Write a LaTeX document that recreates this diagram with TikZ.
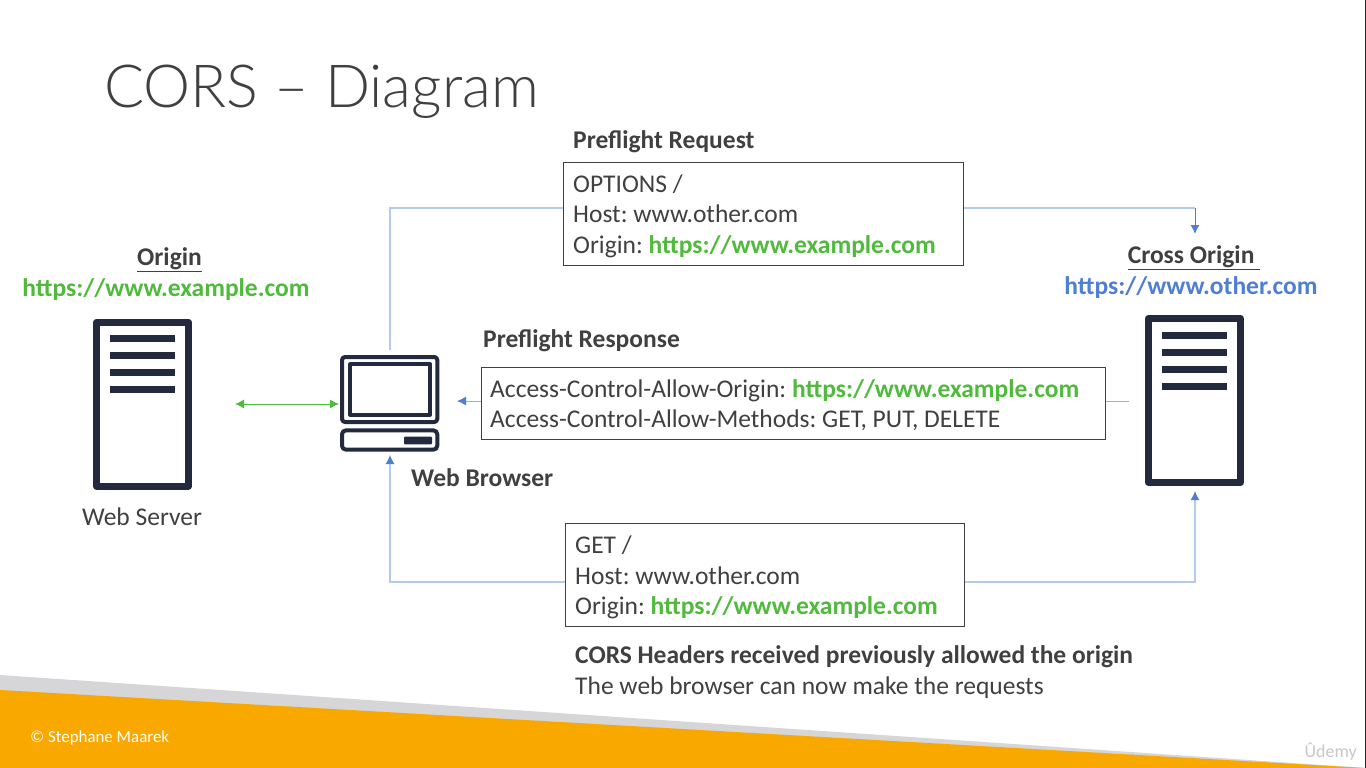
\documentclass[tikz,border=0pt]{standalone}
\usepackage{fontspec}
\setmainfont{Carlito}
\newfontfamily\headfont{Lato Light}
\usetikzlibrary{positioning,arrows.meta}
\definecolor{inkgrey}{HTML}{404040}
\definecolor{devnavy}{HTML}{232A3E}
\definecolor{okgreen}{HTML}{4FBA3B}
\definecolor{wireblue}{HTML}{4F7FD3}
\definecolor{paleblue}{HTML}{B4CBEC}
\definecolor{paleteal}{HTML}{8FBBC6}
\definecolor{bandorange}{HTML}{F9A800}
\definecolor{bandgrey}{HTML}{D6D5D8}
\tikzset{
  every node/.style={inner sep=0pt,text=inkgrey,font=\fontsize{25.5}{30}\selectfont},
  msgbox/.style={draw=inkgrey,line width=1.4pt,fill=white,anchor=north west},
  boxline/.style={anchor=base west},
  headline/.style={anchor=base west,font=\fontsize{25.5}{30}\selectfont\bfseries},
  linkhead/.style={anchor=base,font=\fontsize{25.5}{30}\selectfont\bfseries},
  wire/.style={draw=paleblue,line width=1.2pt},
  flow/.style={wire,-{Latex[color=wireblue,length=9pt,width=9pt]}},
  devline/.style={draw=devnavy,line join=round},
}
\newcommand{\okurl}[1]{\textcolor{okgreen}{\textbf{#1}}}
\newcommand{\towerat}[2]{
  \draw[devline,line width=7pt,fill=white] (#1+3.5,#2+3.5) rectangle (#1+95.5,#2+167.5);
  \foreach \yy in {20,37,54,71}
    \fill[devnavy] (#1+17,#2+\yy-3.5) rectangle (#1+82,#2+\yy+3.5);
}
\frenchspacing
\begin{document}
\begin{tikzpicture}[x=1pt,y=-1pt]
 \useasboundingbox (0,0) rectangle (1366,768);
 \fill[white] (0,0) rectangle (1366,768);
 \fill[bandgrey] (0,675) -- (1366,768) -- (0,768) -- cycle;
 \fill[bandorange] (0,690) -- (1366,768) -- (0,768) -- cycle;
 \fill[black!85] (1365,0) rectangle (1366,768);
 \node[anchor=base west,font=\fontsize{59.4}{70}\selectfont\headfont] (title) at (104,107) {CORS – Diagram};
 \node[anchor=base west,text=white,font=\fontsize{16.9}{18}\selectfont] (credit) at (30,742) {© Stephane Maarek};
 \node[anchor=base east,text=black!22,font=\fontsize{18}{18}\selectfont] (brand) at (1357,757) {Ûdemy};

 \towerat{93}{318.5}
 \towerat{1145}{315}
 \coordinate (webtop) at (390,350);
 \coordinate (webdown) at (390,455);
 \coordinate (webright) at (457,401);
 \coordinate (webleft) at (339,404);
 \coordinate (serverright) at (235,404);
 \coordinate (crosstop) at (1195,234);
 \coordinate (crossdown) at (1195,491);
 \coordinate (crossleft) at (1129,401);

 \draw[devline,line width=4pt,rounded corners=3pt] (342,357) rectangle (437.3,422);
 \draw[devline,line width=4pt] (350.3,364.3) rectangle (430,414.7);
 \draw[devline,line width=4pt,rounded corners=4pt] (342,430.3) rectangle (437.3,449.7);
 \fill[devnavy,rounded corners=1pt] (404,436.7) rectangle (432,444.3);

 \node[linkhead] (origin) at (169.5,265) {\underline{Origin}};
 \node[linkhead,text=okgreen] (originurl) at (166,296) {https://www.example.com};
 \node[anchor=base] (server) at (142,525) {Web Server};
 \node[linkhead] (cross) at (1194,263) {\underline{Cross Origin\ }};
 \node[linkhead,text=wireblue] (crossurl) at (1191,294) {https://www.other.com};
 \node[headline] (browser) at (411,486) {Web Browser};

 \node[msgbox,minimum width=400pt,minimum height=103pt] (preflight) at (563,162) {};
 \node[headline,above right=14pt and 10pt of preflight.north west,anchor=base west] (preflighthead) {Preflight Request};
 \node[boxline,below right=30pt and 10pt of preflight.north west,anchor=base west] (optline) {OPTIONS /};
 \node[boxline,below=30pt of optline.base west,anchor=base west] (pfhost) {Host: www.other.com};
 \node[boxline,below=31pt of pfhost.base west,anchor=base west] (pforigin) {Origin: \okurl{https://www.example.com}};

 \node[msgbox,minimum width=623.5pt,minimum height=72pt] (response) at (481,367) {};
 \node[headline,above right=20pt and 2pt of response.north west,anchor=base west] (responsehead) {Preflight Response};
 \node[boxline,below right=30pt and 9pt of response.north west,anchor=base west] (alloworigin) {Access-Control-Allow-Origin: \okurl{https://www.example.com}};
 \node[boxline,below=30pt of alloworigin.base west,anchor=base west] (allowmethods) {Access-Control-Allow-Methods: GET, PUT, DELETE};

 \node[msgbox,minimum width=399pt,minimum height=103pt] (request) at (565,523) {};
 \node[boxline,below right=30pt and 10pt of request.north west,anchor=base west] (getline) {GET /};
 \node[boxline,below=31pt of getline.base west,anchor=base west] (gethost) {Host: www.other.com};
 \node[boxline,below=30pt of gethost.base west,anchor=base west] (getorigin) {Origin: \okurl{https://www.example.com}};
 \node[headline,below=49pt of getorigin.base west,anchor=base west] (allowed) {CORS Headers received previously allowed the origin};
 \node[boxline,below=31pt of allowed.base west,anchor=base west] (nowmake) {The web browser can now make the requests};

 \draw[wire] (webtop) |- (preflight.west |- 0,208);
 \draw[wire] (preflight.east |- 0,208) -- (1195,208);
 \draw[wireblue,line width=1pt,-{Latex[length=9pt,width=9pt]}] (1195,208) -- (crosstop);
 \draw[okgreen,line width=1pt,{Latex[length=9pt,width=9pt]}-{Latex[length=9pt,width=9pt]}] (serverright) -- (webleft);
 \draw[draw=paleteal,line width=1pt,-{Latex[color=wireblue,length=9pt,width=9pt]}] (response.west |- webright) -- (webright);
 \draw[draw=paleteal,line width=1pt] (response.east |- crossleft) -- (crossleft);
 \draw[flow] (request.west |- 0,582) -| (webdown);
 \draw[flow] (request.east |- 0,582) -| (crossdown);
\end{tikzpicture}
\end{document}
